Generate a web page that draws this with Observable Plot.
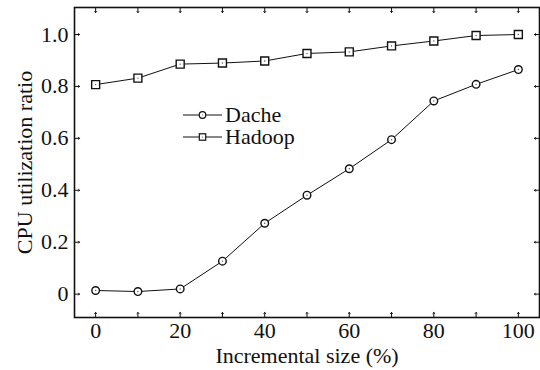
<!DOCTYPE html>
<html>
<head>
<meta charset="utf-8">
<script src="https://cdn.jsdelivr.net/npm/d3@7"></script>
<script src="https://cdn.jsdelivr.net/npm/@observablehq/plot@0.6"></script>
<style>
  html, body { margin: 0; padding: 0; background: #fff; }
  #wrap { position: relative; width: 540px; height: 370px; font-family: 'Liberation Serif', serif; }
  #legend { position: absolute; left: 183px; top: 104px; font-size: 22px; color: #111; font-family: 'Liberation Serif', serif; }
  #legend .row { display: flex; align-items: center; height: 21.7px; }
  #legend .row span { display: inline-block; height: 21px; line-height: 21px; overflow: visible; }
  #legend svg { display: block; margin-right: 3px; }
</style>
</head>
<body>
<div id="wrap"><div id="chart"></div><div id="legend"></div></div>
<script>
const sizes = [0, 10, 20, 30, 40, 50, 60, 70, 80, 90, 100];
const dache = [0.014, 0.010, 0.020, 0.127, 0.273, 0.381, 0.483, 0.595, 0.744, 0.808, 0.865];
const hadoop = [0.807, 0.832, 0.886, 0.890, 0.898, 0.927, 0.933, 0.956, 0.975, 0.996, 1.0];
const seriesNames = ["Dache", "Hadoop"];
const xTickMarks = [0, 10, 20, 30, 40, 50, 60, 70, 80, 90, 100];
const xTickLabels = [0, 20, 40, 60, 80, 100];
const yTicks = [0, 0.2, 0.4, 0.6, 0.8, 1.0];
const xDomain = [-5, 105];
const yDomain = [-0.09, 1.104];

const dacheData = sizes.map((x, i) => ({x, y: dache[i]}));
const hadoopData = sizes.map((x, i) => ({x, y: hadoop[i]}));

const tickLen = 5;
const ink = "#111";

const chart = Plot.plot({
  width: 540,
  height: 370,
  marginLeft: 74,
  marginRight: 1,
  marginTop: 7,
  marginBottom: 53,
  style: {fontFamily: "'Liberation Serif', serif", fontSize: "22px", color: ink, background: "#fff"},
  x: {domain: xDomain},
  y: {domain: yDomain},
  marks: [
    Plot.axisX(xTickLabels, {tickSize: 0, tickPadding: 5, fontSize: 22, label: "Incremental size (%)", labelAnchor: "center", labelArrow: "none", labelOffset: 45}),
    Plot.axisY(yTicks, {tickSize: 0, tickPadding: 6, fontSize: 22, tickFormat: d => d === 0 ? "0" : d.toFixed(1), label: "CPU utilization ratio", labelAnchor: "center", labelArrow: "none", labelOffset: 58}),
    Plot.vector(xTickMarks, {x: d => d, y: () => yDomain[0], rotate: 0, length: tickLen, anchor: "start", stroke: ink, strokeWidth: 1}),
    Plot.vector(xTickMarks, {x: d => d, y: () => yDomain[1], rotate: 180, length: tickLen, anchor: "start", stroke: ink, strokeWidth: 1}),
    Plot.vector(yTicks, {x: () => xDomain[0], y: d => d, rotate: 90, length: tickLen, anchor: "start", stroke: ink, strokeWidth: 1}),
    Plot.vector(yTicks, {x: () => xDomain[1], y: d => d, rotate: -90, length: tickLen, anchor: "start", stroke: ink, strokeWidth: 1}),
    Plot.line(hadoopData, {x: "x", y: "y", stroke: ink, strokeWidth: 1}),
    Plot.line(dacheData, {x: "x", y: "y", stroke: ink, strokeWidth: 1}),
    Plot.dot(hadoopData, {x: "x", y: "y", symbol: "square", r: 4.5, fill: "#fff", stroke: ink, strokeWidth: 1.4}),
    Plot.dot(dacheData, {x: "x", y: "y", symbol: "circle", r: 3.8, fill: "#fff", stroke: ink, strokeWidth: 1.4}),
    Plot.dot(hadoopData, {x: "x", y: "y", r: 0.7, fill: "#555"}),
    Plot.dot(dacheData, {x: "x", y: "y", r: 0.7, fill: "#555"}),
    Plot.frame({stroke: ink, strokeWidth: 1.6})
  ]
});
document.getElementById("chart").appendChild(chart);

const legend = document.getElementById("legend");
const symbols = ["circle", "square"];
seriesNames.forEach((name, i) => {
  const row = document.createElement("div");
  row.className = "row";
  const s = d3.create("svg").attr("width", 39).attr("height", 12);
  s.append("line").attr("x1", 0).attr("x2", 39).attr("y1", 6).attr("y2", 6).attr("stroke", ink).attr("stroke-width", 1);
  if (symbols[i] === "circle") {
    s.append("circle").attr("cx", 19.5).attr("cy", 6).attr("r", 3.3).attr("fill", "#fff").attr("stroke", ink).attr("stroke-width", 1.2);
  } else {
    s.append("rect").attr("x", 16.3).attr("y", 2.8).attr("width", 6.4).attr("height", 6.4).attr("fill", "#fff").attr("stroke", ink).attr("stroke-width", 1.2);
  }
  s.append("circle").attr("cx", 19.5).attr("cy", 6).attr("r", 0.6).attr("fill", "#555");
  row.appendChild(s.node());
  const t = document.createElement("span");
  t.textContent = name;
  row.appendChild(t);
  legend.appendChild(row);
});
</script>
</body>
</html>
